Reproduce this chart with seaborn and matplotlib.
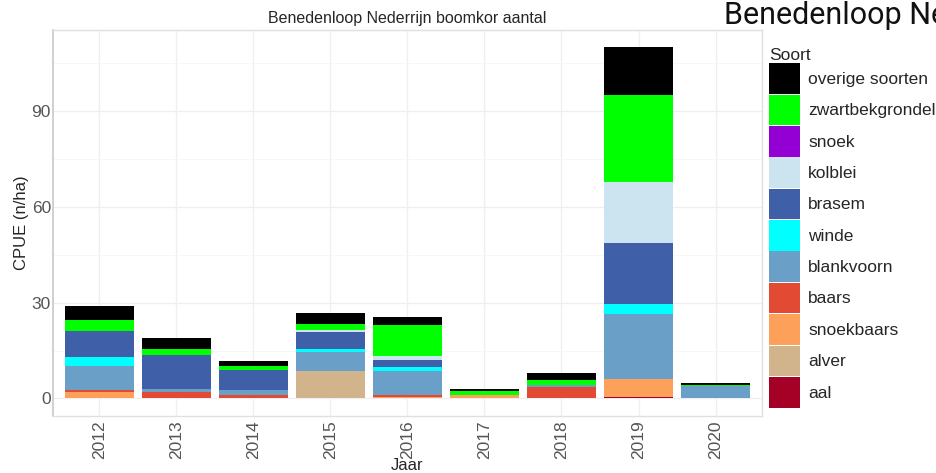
import pandas as pd
import numpy as np
import matplotlib
matplotlib.use('Agg')
import matplotlib.pyplot as plt
import matplotlib.patches as mpatches
import seaborn as sns

# data (CPUE n/ha per soort per jaar)
jaren = ['2012', '2013', '2014', '2015', '2016', '2017', '2018', '2019', '2020']
soorten = ['aal', 'alver', 'snoekbaars', 'baars', 'blankvoorn', 'winde',
           'brasem', 'kolblei', 'snoek', 'zwartbekgrondel', 'overige soorten']

aal = [0.0, 0.0, 0.0, 0.0, 0.3, 0.0, 0.0, 0.5, 0.0]
alver = [0.0, 0.0, 0.0, 8.5, 0.0, 0.0, 0.0, 0.0, 0.0]
snoekbaars = [2.0, 0.3, 0.0, 0.0, 0.3, 1.2, 0.0, 5.7, 0.0]
baars = [0.65, 1.7, 1.2, 0.0, 0.4, 0.0, 3.5, 0.0, 0.0]
blankvoorn = [7.6, 1.1, 1.55, 6.2, 7.5, 0.0, 0.8, 20.2, 4.0]
winde = [2.65, 0.0, 0.0, 0.8, 1.3, 0.0, 0.0, 3.2, 0.0]
brasem = [8.1, 10.4, 6.25, 5.2, 2.3, 0.0, 0.0, 19.1, 0.0]
kolblei = [0.0, 0.0, 0.0, 0.7, 1.1, 0.0, 0.0, 19.2, 0.0]
snoek = [0.0, 0.0, 0.0, 0.0, 0.2, 0.0, 0.0, 0.0, 0.0]
zwartbekgrondel = [3.5, 2.0, 1.25, 1.8, 9.7, 1.05, 1.4, 27.1, 0.2]
overige = [4.6, 3.4, 1.55, 3.7, 2.5, 0.6, 2.4, 15.2, 0.6]

kleuren = ['#A50026', '#D2B48C', '#FDA05A', '#E34A33', '#6A9FC8', '#00FFFF',
           '#3F5FA8', '#CCE4EF', '#9400D3', '#00FF00', '#000000']

waarden = [aal, alver, snoekbaars, baars, blankvoorn, winde,
           brasem, kolblei, snoek, zwartbekgrondel, overige]

df = pd.DataFrame({s: v for s, v in zip(soorten, waarden)}, index=jaren)
df.index.name = 'Jaar'
cum = df.cumsum(axis=1)

sns.set_style('white')
plt.rcParams['font.family'] = ['Liberation Sans', 'DejaVu Sans']

fig = plt.figure(figsize=(9.37, 4.73), dpi=100)
ax = fig.add_axes([0.0566, 0.1205, 0.7564, 0.8161])

# stacked bars: draw cumulative totals from top layer to bottom layer
for soort, kleur in reversed(list(zip(soorten, kleuren))):
    plot_df = cum[soort].reset_index()
    sns.barplot(data=plot_df, x='Jaar', y=soort, color=kleur, width=0.89,
                saturation=1, linewidth=0, ax=ax)

ax.set_ylim(-5.5, 115.5)
ax.set_xlim(-0.6, len(jaren) - 0.4)
ax.set_yticks([0, 30, 60, 90])
ax.set_yticks([15, 45, 75, 105], minor=True)
ax.grid(True, which='major', color='#EFEFEF', linewidth=0.9)
ax.grid(True, which='minor', axis='y', color='#F6F6F6', linewidth=0.6)
ax.set_axisbelow(True)
for side in ['top', 'right', 'bottom']:
    ax.spines[side].set_color('#E0E0E0')
    ax.spines[side].set_linewidth(1.0)
ax.spines['left'].set_color('#C8C8C8')
ax.spines['left'].set_linewidth(1.2)

ax.tick_params(axis='x', labelrotation=90, labelsize=12.5, colors='#555555', length=0, pad=3)
ax.tick_params(axis='y', labelsize=12.5, colors='#555555', length=0, pad=1.5)
ax.tick_params(axis='y', which='minor', length=0)
ax.set_xlabel('Jaar', fontsize=12, labelpad=-1)
ax.set_ylabel('CPUE (n/ha)', fontsize=12, labelpad=2)
ax.set_title('Benedenloop Nederrijn boomkor aantal', fontsize=11.5, pad=5)

# legend (top to bottom reversed stacking order)
handles = [mpatches.Patch(facecolor=k, edgecolor='none', label=s)
           for s, k in zip(soorten, kleuren)][::-1]
leg = fig.legend(handles=handles, title='Soort', loc='upper left',
                 bbox_to_anchor=(0.813, 0.914), frameon=False, fontsize=12.5,
                 title_fontsize=12.5, handlelength=1.78, handleheight=2.34,
                 labelspacing=0.04, handletextpad=0.5, borderaxespad=0,
                 alignment='left')

# big clipped title at the very top right
fig.text(724 / 937, 1 - 24 / 473, 'Benedenloop Nederrijn boomkor aantal', fontsize=22,
         va='baseline', ha='left', color='#111111',
         family=['Roboto', 'Liberation Sans'])

fig.savefig('out.png', dpi=100)
